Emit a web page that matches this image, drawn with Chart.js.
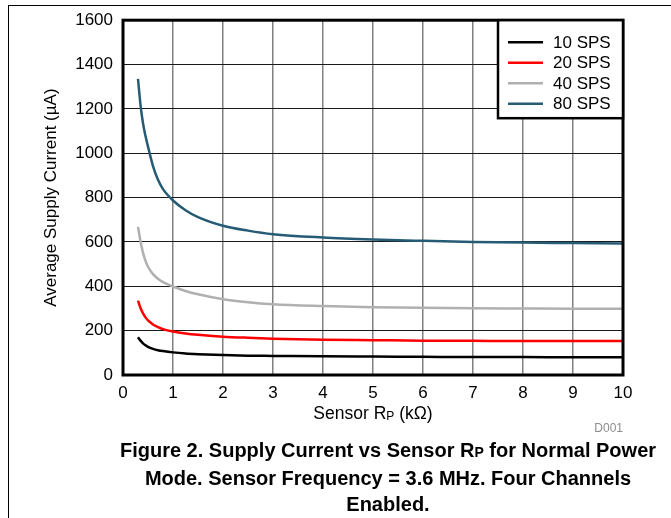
<!DOCTYPE html>
<html>
<head>
<meta charset="utf-8">
<script src="https://cdn.jsdelivr.net/npm/chart.js@4.4.1/dist/chart.umd.min.js"></script>
<style>
    body { margin: 0; background: #fff; font-family: "Liberation Sans", Arial, sans-serif; }
    #page { position: relative; width: 671px; height: 518px; overflow: hidden; }
    #frame { position: absolute; left: 8px; top: 5px; right: -2px; bottom: -2px; border-top: 1px solid #000; border-left: 1px solid #000; }
    #plot { position: absolute; left: 0; top: 0; width: 671px; height: 440px; }
    #caption { position: absolute; left: 88px; width: 600px; top: 437px; text-align: center; font-weight: bold; font-size: 20px; line-height: 26px; color: #000; }
    #caption .sub { font-size: 14px; }
</style>
</head>
<body>
<div id="page">
    <div id="frame"></div>
    <div id="plot"><canvas id="chart"></canvas></div>
    <div id="caption">Figure 2. Supply Current vs Sensor R<span class="sub">P</span> for Normal Power<br>Mode. Sensor Frequency = 3.6 MHz. Four Channels<br>Enabled.</div>
</div>
<script>
// sensor Rp in kOhm
const rpValues = [0.3, 0.35, 0.4, 0.45, 0.5, 0.6, 0.7, 0.8, 1.0, 1.25, 1.5, 2, 2.5, 3, 4, 5, 6, 7, 8, 9, 10];

// average supply current in uA
const sps10 = [170, 155, 143, 134, 127, 118, 112, 108, 102, 97, 94, 90, 87, 86, 84, 83, 82, 81, 81, 80, 80];
const sps20 = [335, 302, 278, 260, 246, 228, 216, 207, 196, 187, 181, 173, 168, 164, 159, 157, 155, 154, 153, 153, 153];
const sps40 = [668, 603, 552, 515, 488, 455, 434, 419, 399, 379, 364, 342, 328, 319, 311, 306, 303, 301, 300, 299, 299];
const sps80 = [1335, 1218, 1135, 1078, 1030, 942, 880, 838, 787, 743, 712, 673, 651, 635, 620, 611, 605, 600, 597, 595, 593];

const seriesLabels = ['10 SPS', '20 SPS', '40 SPS', '80 SPS'];
const seriesColors = ['#000000', '#ff0000', '#b0b0b0', '#265b75'];

const xTicks = [0, 1, 2, 3, 4, 5, 6, 7, 8, 9, 10];
const yTicks = [0, 200, 400, 600, 800, 1000, 1200, 1400, 1600];

const FONT = '"Liberation Sans", Arial, sans-serif';

function toPoints(values) {
    return rpValues.map((rp, i) => ({ x: rp, y: values[i] }));
}

// frame round the plot, legend box, x title with subscript, figure id
const decorations = {
    id: 'decorations',
    afterDatasetsDraw(chart) {
        const ctx = chart.ctx;
        const area = chart.chartArea;
        ctx.save();

        ctx.strokeStyle = '#000';
        ctx.lineWidth = 3;
        ctx.strokeRect(area.left, area.top, area.right - area.left, area.bottom - area.top);

        // legend
        const boxW = 125, boxH = 98;
        const bx = area.right - boxW, by = area.top;
        ctx.fillStyle = '#fff';
        ctx.fillRect(bx, by, boxW, boxH);
        ctx.lineWidth = 2.5;
        ctx.strokeRect(bx, by, boxW, boxH);
        ctx.font = '17px ' + FONT;
        ctx.textBaseline = 'middle';
        ctx.textAlign = 'left';
        chart.data.datasets.forEach((ds, i) => {
            const ly = by + 22 + i * 20.5;
            ctx.strokeStyle = ds.borderColor;
            ctx.lineWidth = 2.5;
            ctx.beginPath();
            ctx.moveTo(bx + 10, ly);
            ctx.lineTo(bx + 45, ly);
            ctx.stroke();
            ctx.fillStyle = '#000';
            ctx.fillText(ds.label, bx + 55, ly + 1);
        });

        // x axis title
        const mid = (area.left + area.right) / 2;
        const main1 = 'Sensor R', sub = 'P', main2 = ' (kΩ)';
        ctx.font = '17.5px ' + FONT;
        const w1 = ctx.measureText(main1).width;
        const w3 = ctx.measureText(main2).width;
        ctx.font = '12px ' + FONT;
        const w2 = ctx.measureText(sub).width;
        let tx = mid - (w1 + w2 + w3) / 2;
        const ty = 419;
        ctx.textBaseline = 'alphabetic';
        ctx.fillStyle = '#000';
        ctx.font = '17.5px ' + FONT;
        ctx.fillText(main1, tx, ty);
        tx += w1;
        ctx.font = '12px ' + FONT;
        ctx.fillText(sub, tx, ty + 1);
        tx += w2;
        ctx.font = '17.5px ' + FONT;
        ctx.fillText(main2, tx, ty);

        ctx.font = '12px ' + FONT;
        ctx.fillStyle = '#8c8c8c';
        ctx.textAlign = 'right';
        ctx.fillText('D001', area.right, 432);

        ctx.restore();
    }
};

const config = {
    type: 'line',
    data: {
        datasets: seriesLabels.map((label, i) => ({
            label: label,
            data: toPoints([sps10, sps20, sps40, sps80][i]),
            borderColor: seriesColors[i],
            backgroundColor: seriesColors[i],
            borderWidth: 2.5,
            pointRadius: 0,
            cubicInterpolationMode: 'monotone',
            fill: false
        }))
    },
    options: {
        responsive: true,
        maintainAspectRatio: false,
        animation: false,
        layout: { padding: { top: 19, right: 48, bottom: 0, left: 0 } },
        scales: {
            x: {
                type: 'linear',
                min: 0,
                max: 10,
                afterBuildTicks: scale => { scale.ticks = xTicks.map(v => ({ value: v })); },
                afterFit: scale => { scale.height = 65; },
                grid: { color: '#808080', lineWidth: 1.5, drawTicks: false },
                border: { display: false },
                ticks: { color: '#000', padding: 8, maxRotation: 0, callback: v => String(v), font: { family: FONT, size: 17 } }
            },
            y: {
                min: 0,
                max: 1600,
                afterBuildTicks: scale => { scale.ticks = yTicks.map(v => ({ value: v })); },
                afterFit: scale => { scale.width = 123; },
                grid: { color: '#1a1a1a', lineWidth: 1, drawTicks: false },
                border: { display: false },
                ticks: { color: '#000', padding: 10, callback: v => String(v), font: { family: FONT, size: 17 } },
                title: {
                    display: true,
                    text: 'Average Supply Current (µA)',
                    color: '#000',
                    padding: { top: 41, bottom: 0 },
                    font: { family: FONT, size: 17 }
                }
            }
        },
        plugins: {
            legend: { display: false },
            tooltip: { enabled: false }
        }
    },
    plugins: [decorations]
};

new Chart(document.getElementById('chart'), config);
</script>
</body>
</html>
